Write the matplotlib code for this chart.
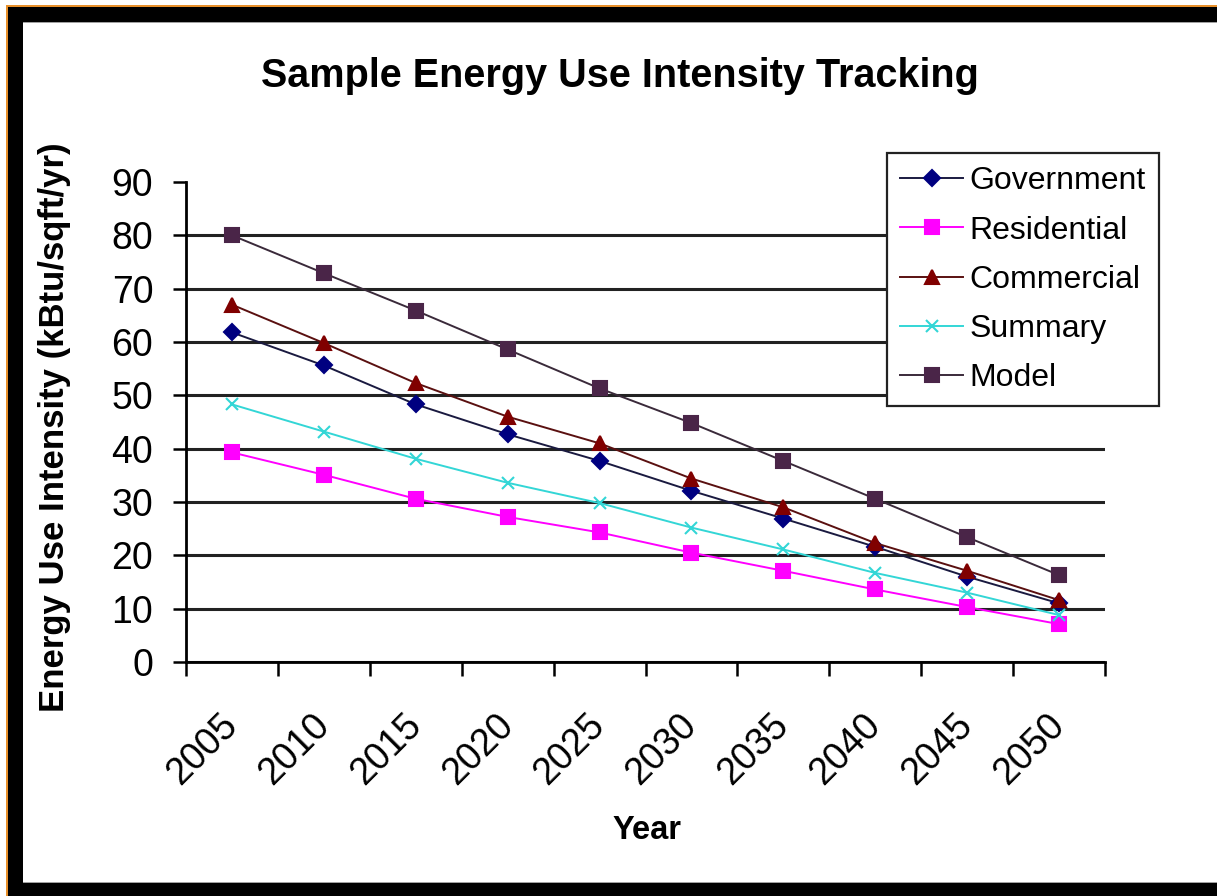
import matplotlib
matplotlib.use("Agg")
import matplotlib.pyplot as plt
from matplotlib.patches import Rectangle

# Energy use intensity by year (kBtu/sqft/yr)
years = ["2005", "2010", "2015", "2020", "2025", "2030", "2035", "2040", "2045", "2050"]
government = [61.8, 55.6, 48.3, 42.7, 37.7, 32.1, 26.9, 21.6, 16.0, 11.0]
residential = [39.3, 35.1, 30.6, 27.2, 24.3, 20.5, 17.1, 13.6, 10.3, 7.1]
commercial = [67.0, 59.8, 52.3, 46.0, 41.0, 34.4, 29.0, 22.3, 17.1, 11.6]
summary = [48.3, 43.2, 38.1, 33.6, 29.8, 25.2, 21.1, 16.7, 13.0, 8.8]
model = [80.0, 72.9, 65.9, 58.6, 51.3, 44.8, 37.7, 30.6, 23.4, 16.3]
y_ticks = [0, 10, 20, 30, 40, 50, 60, 70, 80, 90]

FONT = "Liberation Sans"
W, H = 1217, 896

fig = plt.figure(figsize=(W / 100, H / 100), dpi=100)
fig.patch.set_facecolor("white")


def px_rect(x0, y0, x1, y1, color):
    """Rectangle given in pixel coordinates measured from the top-left."""
    fig.patches.append(Rectangle((x0 / W, 1 - y1 / H), (x1 - x0) / W, (y1 - y0) / H,
                                 transform=fig.transFigure, facecolor=color,
                                 edgecolor="none", zorder=-5))


# Outer frame: thin orange edge and heavy black border
px_rect(6, 5, W, 7, "#e8902a")
px_rect(6, 5, 8, H, "#e8902a")
px_rect(8, 7, W, 22, "black")
px_rect(8, 7, 23, 883, "black")
px_rect(8, 883, W, H, "black")
px_rect(23, 22, W, 23.5, "#a0a0a0")
px_rect(23, 881.5, W, 883, "#a0a0a0")

ax = fig.add_axes([186 / W, 1 - 662 / H, (1105 - 186) / W, (662 - 182) / H])
ax.set_facecolor("none")

x = list(range(len(years)))
series = [
    ("Government", government, "#000080", "#1a1a40", "D", 8.5),
    ("Residential", residential, "#ff00ff", "#ff00ff", "s", 10),
    ("Commercial", commercial, "#800000", "#5a1010", "^", 10.5),
    ("Summary", summary, "#33d6d6", "#33d6d6", "x", 9),
    ("Model", model, "#4a2548", "#3a2a3a", "s", 10.5),
]
for name, vals, mcol, lcol, mk, ms in series:
    ax.plot(x, vals, color=lcol, lw=1.4, marker=mk, markersize=ms,
            markerfacecolor=mcol, markeredgecolor=mcol, markeredgewidth=1.5,
            label=name, zorder=3)

ax.set_xlim(-0.5, len(years) - 0.5)
ax.set_ylim(0, 90)

# Category labels sit at the centres, tick marks at the boundaries
ax.set_xticks(x)
ax.set_xticklabels(years, rotation=45, ha="right", va="center",
                   rotation_mode="anchor", fontsize=27, family=FONT)
ax.tick_params(axis="x", which="major", length=0, pad=42)
ax.set_xticks([i - 0.5 for i in range(len(years) + 1)], minor=True)
ax.tick_params(axis="x", which="minor", length=10, width=1.8, direction="out", color="black")

ax.set_yticks(y_ticks)
ax.set_yticklabels([str(v) for v in y_ticks], fontsize=27, family=FONT)
ax.tick_params(axis="y", length=9.5, width=1.8, direction="out", pad=14, color="black")

ax.yaxis.grid(True, color="#222222", lw=2.2)
ax.get_ygridlines()[-1].set_visible(False)
ax.set_axisbelow(True)

for s in ["top", "right"]:
    ax.spines[s].set_visible(False)
for s in ["left", "bottom"]:
    ax.spines[s].set_linewidth(2)
    ax.spines[s].set_color("black")

fig.text(620 / W, 1 - 76 / H, "Sample Energy Use Intensity Tracking", ha="center",
         va="center", fontsize=28.5, fontweight="bold", family=FONT)
fig.text(55 / W, 1 - 427 / H, "Energy Use Intensity (kBtu/sqft/yr)", ha="center",
         va="center", rotation=90, fontsize=25, fontweight="bold", family=FONT)
fig.text(647 / W, 1 - 830 / H, "Year", ha="center", va="center", fontsize=23.5,
         fontweight="bold", family=FONT)

leg = ax.legend(loc="upper left", bbox_to_anchor=(887 / W, 1 - 153 / H),
                bbox_transform=fig.transFigure, frameon=True, fancybox=False,
                framealpha=1, prop={"family": FONT, "size": 23}, handlelength=1.95,
                handletextpad=0.22, labelspacing=0.6, borderpad=0.42,
                borderaxespad=0)
leg.get_frame().set_edgecolor("#222222")
leg.get_frame().set_linewidth(1.6)
leg.set_zorder(5)

fig.savefig("out.png", dpi=100)
